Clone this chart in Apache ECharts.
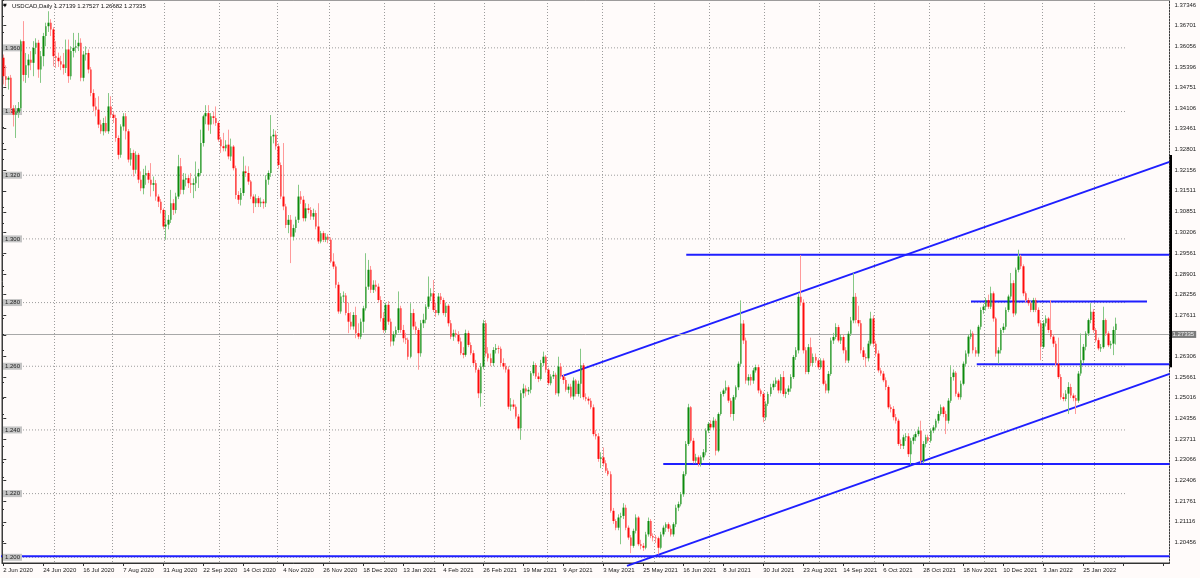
<!DOCTYPE html>
<html><head><meta charset="utf-8">
<script src="https://cdn.jsdelivr.net/npm/echarts@6/dist/echarts.min.js"></script>
<style>html,body{margin:0;padding:0;background:#fffbfa}#c{width:1200px;height:578px}</style>
</head><body><div id="c"></div>
<script>
// ---------------- data ----------------
const symbolTitle = 'USDCAD,Daily';
const firstDate = '2020-06-02';
const closedDays = ['2020-12-25', '2021-01-01'];
const sundayBars = ['2020-10-25', '2021-03-14', '2021-03-21', '2021-10-31'];
// daily bars: [open, high, low, close]
const bars = [
[1.3569,1.3579,1.3485,1.3511],[1.3511,1.3545,1.3479,1.3500],[1.3500,1.3511,1.3469,1.3506],[1.3506,1.3515,1.3395,1.3410],[1.3410,1.3420,1.3353,1.3390],
[1.3390,1.3420,1.3317,1.3400],[1.3400,1.3430,1.3380,1.3411],[1.3411,1.3626,1.3401,1.3621],[1.3621,1.3684,1.3495,1.3515],[1.3515,1.3584,1.3490,1.3545],
[1.3545,1.3580,1.3506,1.3563],[1.3563,1.3590,1.3530,1.3553],[1.3553,1.3621,1.3511,1.3600],[1.3600,1.3630,1.3580,1.3616],[1.3616,1.3625,1.3506,1.3532],
[1.3532,1.3590,1.3490,1.3574],[1.3574,1.3647,1.3542,1.3637],[1.3637,1.3679,1.3605,1.3668],[1.3668,1.3715,1.3650,1.3679],[1.3679,1.3690,1.3637,1.3658],
[1.3658,1.3665,1.3542,1.3574],[1.3574,1.3621,1.3537,1.3569],[1.3569,1.3585,1.3540,1.3558],[1.3558,1.3575,1.3530,1.3548],[1.3548,1.3584,1.3516,1.3537],
[1.3537,1.3626,1.3521,1.3595],[1.3595,1.3626,1.3490,1.3511],[1.3511,1.3605,1.3500,1.3590],[1.3590,1.3647,1.3570,1.3600],[1.3600,1.3625,1.3585,1.3605],
[1.3605,1.3647,1.3590,1.3616],[1.3616,1.3630,1.3495,1.3506],[1.3506,1.3590,1.3495,1.3579],[1.3579,1.3605,1.3560,1.3584],[1.3584,1.3595,1.3520,1.3532],
[1.3532,1.3540,1.3448,1.3458],[1.3458,1.3470,1.3400,1.3416],[1.3416,1.3443,1.3385,1.3406],[1.3406,1.3448,1.3348,1.3359],[1.3359,1.3374,1.3330,1.3338],
[1.3338,1.3380,1.3325,1.3364],[1.3364,1.3385,1.3333,1.3338],[1.3338,1.3458,1.3330,1.3416],[1.3416,1.3448,1.3380,1.3390],[1.3390,1.3400,1.3364,1.3380],
[1.3380,1.3390,1.3305,1.3317],[1.3317,1.3325,1.3250,1.3264],[1.3264,1.3360,1.3255,1.3353],[1.3353,1.3395,1.3340,1.3385],[1.3385,1.3395,1.3312,1.3338],
[1.3338,1.3345,1.3240,1.3249],[1.3249,1.3285,1.3230,1.3270],[1.3270,1.3280,1.3196,1.3217],[1.3217,1.3275,1.3205,1.3264],[1.3264,1.3270,1.3175,1.3186],
[1.3186,1.3212,1.3150,1.3159],[1.3159,1.3220,1.3140,1.3201],[1.3201,1.3230,1.3170,1.3207],[1.3207,1.3215,1.3175,1.3186],[1.3186,1.3238,1.3133,1.3170],
[1.3170,1.3196,1.3150,1.3175],[1.3175,1.3185,1.3120,1.3133],[1.3133,1.3140,1.3100,1.3117],[1.3117,1.3125,1.3080,1.3091],[1.3091,1.3096,1.3030,1.3039],
[1.3039,1.3090,1.2997,1.3045],[1.3045,1.3075,1.3030,1.3060],[1.3060,1.3154,1.3050,1.3112],[1.3112,1.3125,1.3075,1.3091],[1.3091,1.3145,1.3080,1.3133],
[1.3133,1.3264,1.3125,1.3228],[1.3228,1.3254,1.3140,1.3154],[1.3154,1.3207,1.3140,1.3186],[1.3186,1.3205,1.3165,1.3191],[1.3191,1.3200,1.3160,1.3175],
[1.3175,1.3207,1.3144,1.3170],[1.3170,1.3190,1.3128,1.3175],[1.3175,1.3243,1.3150,1.3196],[1.3196,1.3220,1.3160,1.3207],[1.3207,1.3343,1.3200,1.3301],
[1.3301,1.3390,1.3290,1.3385],[1.3385,1.3420,1.3360,1.3395],[1.3395,1.3420,1.3340,1.3359],[1.3359,1.3395,1.3330,1.3385],[1.3385,1.3400,1.3360,1.3380],
[1.3380,1.3416,1.3355,1.3364],[1.3364,1.3370,1.3305,1.3312],[1.3312,1.3320,1.3270,1.3291],[1.3291,1.3333,1.3275,1.3285],[1.3285,1.3310,1.3275,1.3296],
[1.3296,1.3343,1.3250,1.3259],[1.3259,1.3315,1.3245,1.3290],[1.3290,1.3295,1.3215,1.3222],[1.3222,1.3230,1.3125,1.3138],[1.3138,1.3150,1.3110,1.3123],
[1.3123,1.3160,1.3105,1.3144],[1.3144,1.3259,1.3135,1.3212],[1.3212,1.3230,1.3195,1.3207],[1.3207,1.3228,1.3170,1.3180],[1.3180,1.3185,1.3125,1.3133],
[1.3133,1.3140,1.3081,1.3112],[1.3112,1.3140,1.3100,1.3128],[1.3128,1.3135,1.3100,1.3112],[1.3112,1.3130,1.3100,1.3117],[1.3117,1.3125,1.3095,1.3112],
[1.3112,1.3200,1.3100,1.3186],[1.3186,1.3215,1.3170,1.3207],[1.3207,1.3389,1.3195,1.3322],[1.3322,1.3345,1.3300,1.3327],[1.3327,1.3340,1.3280,1.3291],
[1.3291,1.3300,1.3220,1.3232],[1.3232,1.3240,1.3125,1.3133],[1.3133,1.3301,1.3090,1.3102],[1.3102,1.3110,1.3034,1.3044],[1.3044,1.3075,1.3018,1.3060],
[1.3060,1.3075,1.2924,1.3007],[1.3007,1.3045,1.2995,1.3034],[1.3034,1.3070,1.3020,1.3060],[1.3060,1.3170,1.3050,1.3133],[1.3133,1.3150,1.3110,1.3123],
[1.3123,1.3135,1.3055,1.3065],[1.3065,1.3112,1.3055,1.3096],[1.3096,1.3110,1.3080,1.3091],[1.3091,1.3100,1.3060,1.3070],[1.3070,1.3095,1.3060,1.3081],
[1.3081,1.3090,1.3030,1.3039],[1.3039,1.3112,1.2985,1.2992],[1.2992,1.3025,1.2986,1.3018],[1.3018,1.3025,1.2990,1.2997],[1.2997,1.3018,1.2990,1.3007],
[1.3007,1.3015,1.2986,1.2997],[1.2997,1.3005,1.2924,1.2929],[1.2929,1.2955,1.2905,1.2913],[1.2913,1.2920,1.2845,1.2856],[1.2856,1.2865,1.2765,1.2772],
[1.2772,1.2830,1.2765,1.2819],[1.2819,1.2835,1.2800,1.2822],[1.2822,1.2830,1.2760,1.2767],[1.2767,1.2800,1.2704,1.2740],[1.2740,1.2770,1.2715,1.2725],
[1.2725,1.2770,1.2715,1.2761],[1.2761,1.2787,1.2688,1.2704],[1.2704,1.2735,1.2685,1.2693],[1.2693,1.2750,1.2685,1.2740],[1.2740,1.2790,1.2705,1.2782],
[1.2782,1.2955,1.2775,1.2850],[1.2850,1.2934,1.2840,1.2903],[1.2903,1.2915,1.2830,1.2840],[1.2840,1.2870,1.2830,1.2856],[1.2856,1.2870,1.2835,1.2850],
[1.2850,1.2860,1.2800,1.2808],[1.2808,1.2820,1.2740,1.2751],[1.2751,1.2770,1.2705,1.2714],[1.2714,1.2800,1.2705,1.2793],[1.2793,1.2805,1.2730,1.2740],
[1.2740,1.2750,1.2662,1.2678],[1.2678,1.2710,1.2665,1.2700],[1.2700,1.2725,1.2690,1.2714],[1.2714,1.2835,1.2705,1.2782],[1.2782,1.2790,1.2705,1.2714],
[1.2714,1.2730,1.2675,1.2688],[1.2688,1.2705,1.2670,1.2683],[1.2683,1.2690,1.2620,1.2630],[1.2630,1.2798,1.2625,1.2767],[1.2767,1.2780,1.2715,1.2725],
[1.2725,1.2740,1.2700,1.2714],[1.2714,1.2720,1.2589,1.2641],[1.2641,1.2745,1.2630,1.2735],[1.2735,1.2765,1.2720,1.2746],[1.2746,1.2795,1.2735,1.2787],
[1.2787,1.2882,1.2780,1.2819],[1.2819,1.2845,1.2805,1.2829],[1.2829,1.2871,1.2770,1.2777],[1.2777,1.2800,1.2755,1.2767],[1.2767,1.2830,1.2760,1.2819],
[1.2819,1.2830,1.2795,1.2808],[1.2808,1.2815,1.2760,1.2767],[1.2767,1.2800,1.2755,1.2790],[1.2790,1.2795,1.2725,1.2735],[1.2735,1.2745,1.2685,1.2693],
[1.2693,1.2715,1.2680,1.2704],[1.2704,1.2715,1.2690,1.2699],[1.2699,1.2710,1.2670,1.2678],[1.2678,1.2690,1.2635,1.2641],[1.2641,1.2660,1.2625,1.2636],
[1.2636,1.2715,1.2630,1.2704],[1.2704,1.2712,1.2660,1.2667],[1.2667,1.2675,1.2635,1.2641],[1.2641,1.2650,1.2600,1.2610],[1.2610,1.2620,1.2580,1.2589],
[1.2589,1.2595,1.2500,1.2515],[1.2515,1.2610,1.2473,1.2599],[1.2599,1.2746,1.2590,1.2735],[1.2735,1.2745,1.2630,1.2640],[1.2640,1.2660,1.2615,1.2625],
[1.2625,1.2640,1.2600,1.2610],[1.2610,1.2660,1.2600,1.2651],[1.2651,1.2670,1.2640,1.2657],[1.2657,1.2665,1.2640,1.2655],[1.2655,1.2662,1.2600,1.2610],
[1.2610,1.2625,1.2590,1.2599],[1.2599,1.2610,1.2580,1.2590],[1.2590,1.2600,1.2465,1.2473],[1.2473,1.2500,1.2460,1.2480],[1.2480,1.2495,1.2465,1.2473],
[1.2473,1.2480,1.2435,1.2442],[1.2442,1.2450,1.2400,1.2405],[1.2405,1.2525,1.2369,1.2515],[1.2515,1.2545,1.2500,1.2530],[1.2530,1.2540,1.2505,1.2521],
[1.2521,1.2535,1.2510,1.2526],[1.2526,1.2585,1.2515,1.2578],[1.2578,1.2615,1.2570,1.2604],[1.2604,1.2610,1.2560,1.2568],[1.2568,1.2580,1.2550,1.2560],
[1.2560,1.2620,1.2555,1.2610],[1.2610,1.2646,1.2600,1.2630],[1.2630,1.2635,1.2580,1.2589],[1.2589,1.2595,1.2540,1.2547],[1.2547,1.2575,1.2540,1.2568],
[1.2568,1.2585,1.2560,1.2573],[1.2573,1.2580,1.2510,1.2515],[1.2515,1.2630,1.2505,1.2599],[1.2599,1.2610,1.2560,1.2568],[1.2568,1.2575,1.2545,1.2557],
[1.2557,1.2565,1.2520,1.2526],[1.2526,1.2545,1.2515,1.2536],[1.2536,1.2545,1.2500,1.2505],[1.2505,1.2565,1.2495,1.2555],[1.2555,1.2560,1.2505,1.2513],
[1.2513,1.2555,1.2505,1.2545],[1.2545,1.2655,1.2500,1.2603],[1.2603,1.2610,1.2495,1.2503],[1.2503,1.2515,1.2490,1.2498],[1.2498,1.2505,1.2480,1.2492],
[1.2492,1.2500,1.2465,1.2471],[1.2471,1.2480,1.2380,1.2387],[1.2387,1.2400,1.2370,1.2380],[1.2380,1.2390,1.2300,1.2309],[1.2309,1.2330,1.2280,1.2314],
[1.2314,1.2345,1.2285,1.2295],[1.2295,1.2305,1.2265,1.2272],[1.2272,1.2280,1.2255,1.2261],[1.2261,1.2270,1.2140,1.2146],[1.2146,1.2155,1.2105,1.2114],
[1.2114,1.2120,1.2085,1.2093],[1.2093,1.2135,1.2085,1.2125],[1.2125,1.2140,1.2041,1.2130],[1.2130,1.2170,1.2120,1.2156],[1.2156,1.2165,1.2085,1.2093],
[1.2093,1.2100,1.2055,1.2062],[1.2062,1.2070,1.2013,1.2036],[1.2036,1.2090,1.2030,1.2083],[1.2083,1.2135,1.2075,1.2125],[1.2125,1.2130,1.2035,1.2041],
[1.2041,1.2055,1.2025,1.2036],[1.2036,1.2045,1.2020,1.2030],[1.2030,1.2080,1.2025,1.2072],[1.2072,1.2125,1.2065,1.2114],[1.2114,1.2120,1.2060,1.2067],
[1.2067,1.2075,1.2050,1.2062],[1.2062,1.2070,1.2045,1.2060],[1.2060,1.2065,1.2009,1.2030],[1.2030,1.2080,1.2025,1.2072],[1.2072,1.2100,1.2065,1.2093],
[1.2093,1.2110,1.2080,1.2104],[1.2104,1.2110,1.2080,1.2090],[1.2090,1.2100,1.2065,1.2072],[1.2072,1.2110,1.2065,1.2104],[1.2104,1.2165,1.2095,1.2156],
[1.2156,1.2175,1.2145,1.2167],[1.2167,1.2205,1.2160,1.2198],[1.2198,1.2270,1.2190,1.2261],[1.2261,1.2365,1.2255,1.2356],[1.2356,1.2482,1.2350,1.2471],
[1.2471,1.2475,1.2360,1.2366],[1.2366,1.2375,1.2295,1.2303],[1.2303,1.2325,1.2295,1.2314],[1.2314,1.2320,1.2285,1.2293],[1.2293,1.2320,1.2285,1.2314],
[1.2314,1.2340,1.2305,1.2330],[1.2330,1.2405,1.2320,1.2398],[1.2398,1.2425,1.2390,1.2419],[1.2419,1.2430,1.2400,1.2408],[1.2408,1.2440,1.2400,1.2429],
[1.2429,1.2435,1.2320,1.2335],[1.2335,1.2455,1.2330,1.2450],[1.2450,1.2520,1.2445,1.2513],[1.2513,1.2530,1.2505,1.2524],[1.2524,1.2555,1.2515,1.2534],
[1.2534,1.2540,1.2485,1.2492],[1.2492,1.2500,1.2440,1.2450],[1.2450,1.2510,1.2429,1.2503],[1.2503,1.2540,1.2495,1.2534],[1.2534,1.2615,1.2525,1.2608],
[1.2608,1.2807,1.2600,1.2734],[1.2734,1.2745,1.2670,1.2681],[1.2681,1.2690,1.2545,1.2555],[1.2555,1.2575,1.2540,1.2566],[1.2566,1.2575,1.2540,1.2555],
[1.2555,1.2595,1.2545,1.2587],[1.2587,1.2605,1.2580,1.2597],[1.2597,1.2605,1.2515,1.2524],[1.2524,1.2530,1.2505,1.2513],[1.2513,1.2520,1.2424,1.2440],
[1.2440,1.2490,1.2430,1.2482],[1.2482,1.2520,1.2475,1.2513],[1.2513,1.2545,1.2505,1.2534],[1.2534,1.2555,1.2525,1.2545],[1.2545,1.2565,1.2535,1.2555],
[1.2555,1.2560,1.2515,1.2524],[1.2524,1.2575,1.2515,1.2566],[1.2566,1.2585,1.2505,1.2513],[1.2513,1.2530,1.2500,1.2520],[1.2520,1.2540,1.2510,1.2530],
[1.2530,1.2575,1.2520,1.2566],[1.2566,1.2635,1.2560,1.2629],[1.2629,1.2660,1.2620,1.2650],[1.2650,1.2830,1.2640,1.2818],[1.2818,1.2949,1.2790,1.2800],
[1.2800,1.2810,1.2640,1.2650],[1.2650,1.2660,1.2575,1.2582],[1.2582,1.2670,1.2575,1.2660],[1.2660,1.2690,1.2600,1.2610],[1.2610,1.2640,1.2600,1.2629],
[1.2629,1.2640,1.2610,1.2618],[1.2618,1.2625,1.2590,1.2597],[1.2597,1.2625,1.2590,1.2618],[1.2618,1.2625,1.2540,1.2545],[1.2545,1.2555,1.2515,1.2524],
[1.2524,1.2585,1.2515,1.2576],[1.2576,1.2690,1.2570,1.2681],[1.2681,1.2705,1.2670,1.2692],[1.2692,1.2735,1.2685,1.2723],[1.2723,1.2730,1.2675,1.2681],
[1.2681,1.2700,1.2670,1.2692],[1.2692,1.2700,1.2640,1.2650],[1.2650,1.2660,1.2610,1.2618],[1.2618,1.2710,1.2610,1.2702],[1.2702,1.2755,1.2695,1.2744],
[1.2744,1.2893,1.2735,1.2818],[1.2818,1.2830,1.2735,1.2745],[1.2745,1.2790,1.2725,1.2735],[1.2735,1.2745,1.2640,1.2650],[1.2650,1.2660,1.2620,1.2629],
[1.2629,1.2640,1.2598,1.2625],[1.2625,1.2680,1.2615,1.2671],[1.2671,1.2771,1.2665,1.2750],[1.2750,1.2760,1.2660,1.2671],[1.2671,1.2680,1.2630,1.2640],
[1.2640,1.2650,1.2580,1.2587],[1.2587,1.2595,1.2570,1.2577],[1.2577,1.2585,1.2550,1.2556],[1.2556,1.2565,1.2525,1.2535],[1.2535,1.2540,1.2465,1.2471],
[1.2471,1.2480,1.2455,1.2466],[1.2466,1.2475,1.2430,1.2440],[1.2440,1.2450,1.2420,1.2429],[1.2429,1.2435,1.2350,1.2356],[1.2356,1.2370,1.2340,1.2350],
[1.2350,1.2385,1.2340,1.2377],[1.2377,1.2390,1.2365,1.2380],[1.2380,1.2390,1.2315,1.2324],[1.2324,1.2375,1.2292,1.2366],[1.2366,1.2385,1.2355,1.2377],
[1.2377,1.2395,1.2365,1.2387],[1.2387,1.2410,1.2380,1.2398],[1.2398,1.2429,1.2295,1.2303],[1.2303,1.2365,1.2295,1.2356],[1.2356,1.2385,1.2345,1.2377],
[1.2377,1.2385,1.2360,1.2366],[1.2366,1.2405,1.2360,1.2398],[1.2398,1.2415,1.2390,1.2408],[1.2408,1.2435,1.2400,1.2429],[1.2429,1.2460,1.2420,1.2450],
[1.2450,1.2480,1.2445,1.2471],[1.2471,1.2475,1.2440,1.2450],[1.2450,1.2460,1.2387,1.2429],[1.2429,1.2500,1.2420,1.2492],[1.2492,1.2603,1.2485,1.2566],
[1.2566,1.2590,1.2555,1.2580],[1.2580,1.2585,1.2505,1.2514],[1.2514,1.2520,1.2495,1.2503],[1.2503,1.2555,1.2495,1.2545],[1.2545,1.2615,1.2540,1.2608],
[1.2608,1.2650,1.2600,1.2640],[1.2640,1.2700,1.2630,1.2693],[1.2693,1.2715,1.2685,1.2703],[1.2703,1.2710,1.2640,1.2650],[1.2650,1.2660,1.2630,1.2640],
[1.2640,1.2730,1.2630,1.2724],[1.2724,1.2785,1.2715,1.2777],[1.2777,1.2795,1.2765,1.2787],[1.2787,1.2815,1.2775,1.2808],[1.2808,1.2825,1.2780,1.2787],
[1.2787,1.2850,1.2780,1.2829],[1.2829,1.2835,1.2740,1.2750],[1.2750,1.2755,1.2630,1.2640],[1.2640,1.2660,1.2608,1.2650],[1.2650,1.2720,1.2640,1.2714],
[1.2714,1.2735,1.2705,1.2724],[1.2724,1.2785,1.2715,1.2777],[1.2777,1.2825,1.2770,1.2819],[1.2819,1.2893,1.2810,1.2861],[1.2861,1.2870,1.2755,1.2766],
[1.2766,1.2910,1.2760,1.2903],[1.2903,1.2966,1.2895,1.2945],[1.2945,1.2950,1.2905,1.2914],[1.2914,1.2920,1.2820,1.2829],[1.2829,1.2835,1.2800,1.2808],
[1.2808,1.2815,1.2790,1.2798],[1.2798,1.2805,1.2770,1.2777],[1.2777,1.2815,1.2770,1.2808],[1.2808,1.2815,1.2770,1.2777],[1.2777,1.2785,1.2725,1.2735],
[1.2735,1.2745,1.2619,1.2661],[1.2661,1.2745,1.2655,1.2735],[1.2735,1.2760,1.2725,1.2750],[1.2750,1.2755,1.2705,1.2714],[1.2714,1.2808,1.2685,1.2693],
[1.2693,1.2700,1.2660,1.2671],[1.2671,1.2680,1.2600,1.2608],[1.2608,1.2690,1.2560,1.2566],[1.2566,1.2575,1.2495,1.2503],[1.2503,1.2515,1.2490,1.2497],
[1.2497,1.2525,1.2490,1.2514],[1.2514,1.2550,1.2450,1.2535],[1.2535,1.2545,1.2500,1.2508],[1.2508,1.2515,1.2490,1.2500],[1.2500,1.2510,1.2450,1.2492],
[1.2492,1.2585,1.2485,1.2577],[1.2577,1.2703,1.2570,1.2619],[1.2619,1.2670,1.2610,1.2661],[1.2661,1.2710,1.2650,1.2703],[1.2703,1.2750,1.2695,1.2745],
[1.2745,1.2798,1.2735,1.2771],[1.2771,1.2780,1.2705,1.2714],[1.2714,1.2720,1.2675,1.2682],[1.2682,1.2690,1.2650,1.2656],[1.2656,1.2670,1.2645,1.2660],
[1.2660,1.2787,1.2655,1.2745],[1.2745,1.2750,1.2695,1.2703],[1.2703,1.2710,1.2660,1.2666],[1.2666,1.2680,1.2655,1.2671],[1.2671,1.2725,1.2635,1.2714],
[1.27139,1.27527,1.26682,1.27335]
];
// right price scale tick labels
const priceTicks = [1.37346,1.36701,1.36056,1.35396,1.34751,1.34106,1.33461,1.32801,1.32156,1.31511,1.30851,1.30206,1.29561,1.28901,1.28256,1.27611,1.26966,1.26306,1.25661,1.25016,1.24356,1.23711,1.23066,1.22406,1.21761,1.21116,1.20456,1.19811];
// left grid levels (with boxed labels)
const gridLevels = [1.200,1.220,1.240,1.260,1.280,1.300,1.320,1.340,1.360];
const priceMin = 1.19821, priceMax = 1.37503;
// drawn objects: [bar index, price]
const level1200 = [[-1, 1.2003], [466.5, 1.2003]];
const channelUpper = [[223.5, 1.2569], [466.5, 1.3242]];
const channelLower = [[249.5, 1.1973], [466.5, 1.2576]];
const level1295 = [[273.2, 1.2950], [466.5, 1.2950]];
const level1229 = [[264.0, 1.2293], [466.5, 1.2293]];
const level1280 = [[387.1, 1.2803], [457.5, 1.2803]];
const level1260 = [[389.4, 1.2606], [466.5, 1.2606]];
const rangeMarker = [[467.1, 1.32635], [467.1, 1.25967]];
const gridEndBar = 449.5;

// ---------------- build ----------------
const NCAT = 467;
const MONTHS = ['Jan','Feb','Mar','Apr','May','Jun','Jul','Aug','Sep','Oct','Nov','Dec'];
const dates = [];
{
  const d = new Date(firstDate + 'T00:00:00Z');
  while (dates.length < bars.length) {
    const wd = d.getUTCDay(), iso = d.toISOString().slice(0, 10);
    const open = (wd !== 0 && wd !== 6 && !closedDays.includes(iso)) || sundayBars.includes(iso);
    if (open) dates.push(new Date(d.getTime()));
    d.setUTCDate(d.getUTCDate() + 1);
  }
}
const cats = [], labels = [], monthStart = [];
for (let i = 0; i < NCAT; i++) {
  if (i < dates.length) {
    const d = dates[i];
    cats.push(d.toISOString().slice(0, 10));
    labels.push(d.getUTCDate() + ' ' + MONTHS[d.getUTCMonth()] + ' ' + d.getUTCFullYear());
    monthStart.push(i > 0 && d.getUTCMonth() !== dates[i - 1].getUTCMonth());
  } else { cats.push('pad' + i); labels.push(''); monthStart.push(false); }
}
const leftTicks = [];
for (let v = 1200; v <= 1375; v += 5) leftTicks.push(v / 1000);

const wickData = bars.map(b => [b[0], b[3], b[2], b[1]]);
const bodyData = bars.map(b => [b[0], b[3], Math.min(b[0], b[3]), Math.max(b[0], b[3])]);
const last = bars[bars.length - 1];

const FONT = 'Liberation Sans, Arial, sans-serif';
const BLUE = '#1f1fff';
const GRIDC = '#9c9c9c';

const series = [];
gridLevels.forEach(v => series.push({
  type: 'line', xAxisIndex: 1, yAxisIndex: 0, data: [[-0.5, v], [gridEndBar, v]],
  symbol: 'none', silent: true, z: 1, lineStyle: { color: GRIDC, width: 1, type: [1, 2] }
}));
[level1200, channelUpper, level1295, level1229, level1280, level1260].forEach(l => series.push({
  type: 'line', xAxisIndex: 1, yAxisIndex: 0, data: l, symbol: 'none', silent: true, z: 2,
  lineStyle: { color: BLUE, width: 2 }
}));
series.push({
  type: 'line', xAxisIndex: 1, yAxisIndex: 0, data: channelLower, symbol: 'none', silent: true, z: 2, clip: false,
  lineStyle: { color: BLUE, width: 2 }
});
series.push({
  type: 'candlestick', name: 'wick', xAxisIndex: 0, yAxisIndex: 0, data: wickData, barWidth: 1, z: 6,
  itemStyle: { color: '#86c886', color0: '#ff9a9a', borderColor: '#86c886', borderColor0: '#ff9a9a', borderWidth: 1 },
  markLine: {
    silent: true, symbol: 'none', animation: false,
    lineStyle: { color: '#a8a8a8', width: 1, type: 'solid' },
    label: { show: true, position: 'end', distance: 1, formatter: () => last[3].toFixed(5),
      backgroundColor: '#7a7a7a', color: '#f0f0f0', fontSize: 6, fontFamily: FONT, padding: [1, 2, 0, 2] },
    data: [{ yAxis: last[3] }]
  }
});
series.push({
  type: 'candlestick', name: 'body', xAxisIndex: 0, yAxisIndex: 0, data: bodyData, barWidth: 2, z: 7,
  itemStyle: { color: '#0c8a0c', color0: '#ff0a0a', borderColor: '#0c8a0c', borderColor0: '#ff0a0a', borderWidth: 0 }
});
series.push({
  type: 'line', xAxisIndex: 1, yAxisIndex: 0, data: rangeMarker, symbol: 'none', silent: true, z: 8, clip: false,
  lineStyle: { color: '#000', width: 3 }
});

const chart = echarts.init(document.getElementById('c'), null, { renderer: 'canvas' });
chart.setOption({
  animation: false,
  backgroundColor: '#fffbfa',
  textStyle: { fontFamily: FONT },
  title: [
    { text: '\u25BC', left: 3, top: 3, padding: 0, textStyle: { fontSize: 5, color: '#111', fontWeight: 'normal', fontFamily: 'DejaVu Sans' } },
    { text: symbolTitle + ' ' + last.map(v => v.toFixed(5)).join(' '),
      left: 12, top: 3, padding: 0, textStyle: { fontSize: 6, color: '#111', fontWeight: 'normal', fontFamily: FONT } }
  ],
  grid: { left: 2, right: 30.5, top: 0, bottom: 15, show: true, borderColor: '#3c3c3c', borderWidth: 1, backgroundColor: 'transparent' },
  xAxis: [
    { type: 'category', data: cats, boundaryGap: true, gridIndex: 0,
      axisLine: { show: true, lineStyle: { color: '#333', width: 1 } },
      axisTick: { show: true, interval: 15, alignWithLabel: true, length: 3, lineStyle: { color: '#333' } },
      axisLabel: { interval: 15, align: 'left', margin: 4, fontSize: 6, color: '#1a1a1a', fontFamily: FONT,
        formatter: (v, i) => labels[i] || '' },
      splitLine: { show: true, interval: (i) => monthStart[i], lineStyle: { color: GRIDC, width: 1, type: [1, 2] } }
    },
    { type: 'value', min: -0.5, max: NCAT - 0.5, show: false, gridIndex: 0 }
  ],
  yAxis: [
    { type: 'value', position: 'right', min: priceMin, max: priceMax, scale: true,
      axisLine: { show: false },
      axisTick: { show: true, length: 3, customValues: priceTicks, lineStyle: { color: '#333' } },
      axisLabel: { customValues: priceTicks, formatter: v => v.toFixed(5), fontSize: 6, color: '#1a1a1a', margin: 5, fontFamily: FONT },
      splitLine: { show: false }
    },
    { type: 'value', position: 'left', min: priceMin, max: priceMax, scale: true, z: 5,
      axisLine: { show: true, lineStyle: { color: '#3c3c3c' } },
      axisTick: { show: true, inside: true, length: 2, customValues: leftTicks, lineStyle: { color: '#333' } },
      axisLabel: { inside: true, customValues: gridLevels, formatter: v => v.toFixed(3), fontSize: 6, color: '#222',
        margin: 1, backgroundColor: '#c4c4c4', padding: [1, 2, 0, 2], fontFamily: FONT },
      splitLine: { show: false }
    }
  ],
  series
});
</script></body></html>
